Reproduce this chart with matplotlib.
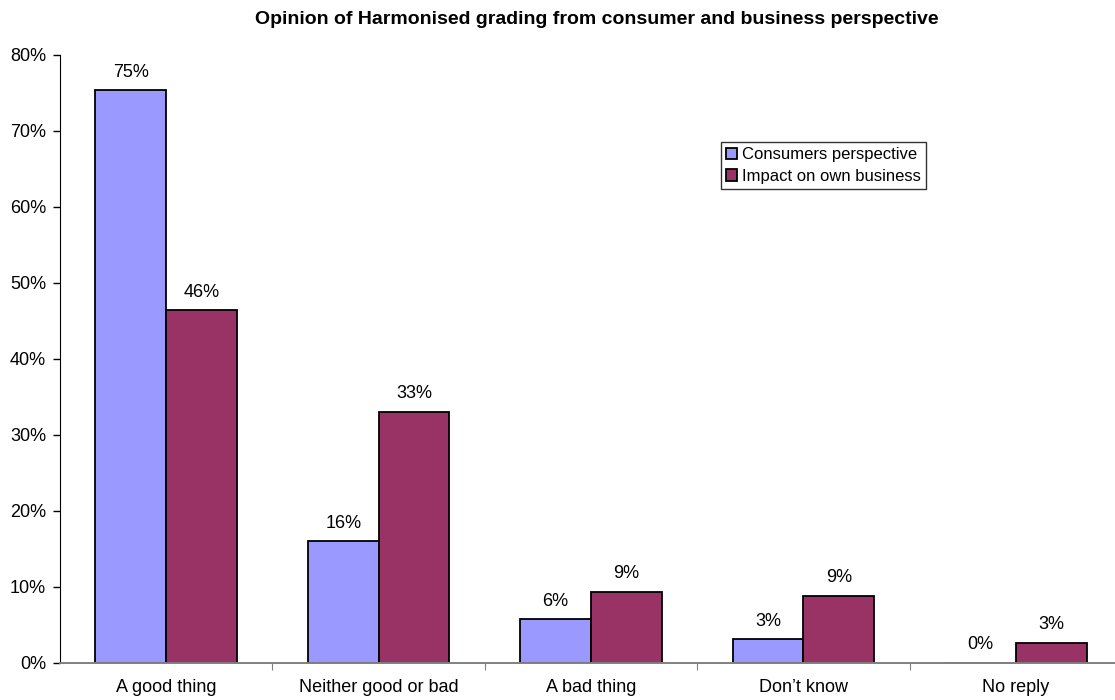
import matplotlib.pyplot as plt
import numpy as np
from matplotlib.ticker import PercentFormatter

plt.rcParams["font.family"] = ["Liberation Sans", "DejaVu Sans"]

categories = ["A good thing", "Neither good or bad", "A bad thing", "Don\u2019t know", "No reply"]
consumers = [75.3, 16.0, 5.7, 3.1, 0.0]
business = [46.4, 33.0, 9.3, 8.8, 2.6]

CONS_COLOR = "#9999FF"
BUS_COLOR = "#993366"

fig = plt.figure(figsize=(11.15, 7), dpi=100)
ax = fig.add_axes([60 / 1115, 37.3 / 700, 1062 / 1115, 608 / 700])

x = np.arange(len(categories))
w = 1 / 3
b1 = ax.bar(x - w / 2, consumers, w, color=CONS_COLOR, edgecolor="black",
            linewidth=1.3, label="Consumers perspective")
b2 = ax.bar(x + w / 2, business, w, color=BUS_COLOR, edgecolor="black",
            linewidth=1.3, label="Impact on own business")

# value labels above bars
for bars, vals in [(b1, consumers), (b2, business)]:
    for bar, v in zip(bars, vals):
        ax.annotate(f"{v:.0f}%", (bar.get_x() + bar.get_width() / 2, v),
                    xytext=(0, 13), textcoords="offset points",
                    ha="center", va="center", fontsize=13)

ax.set_xlim(-0.5, 4.5)
ax.set_ylim(0, 80)
ax.set_yticks(np.arange(0, 81, 10))
ax.yaxis.set_major_formatter(PercentFormatter(decimals=0))
ax.tick_params(axis="y", direction="out", length=5, width=1, labelsize=13, pad=5)

# ticks between categories, labels centred on groups
ax.set_xticks(x[:-1] + 0.5)
ax.set_xticklabels([])
ax.set_xticks(x, minor=True)
ax.set_xticklabels(categories, minor=True, fontsize=13)
ax.tick_params(axis="x", which="major", direction="out", length=5, color="#808080")
ax.tick_params(axis="x", which="minor", length=0, pad=12)

for side in ["top", "right"]:
    ax.spines[side].set_visible(False)
ax.spines["bottom"].set_color("#808080")
ax.spines["bottom"].set_linewidth(1.4)
ax.spines["left"].set_color("black")

leg = ax.legend(loc="upper left", bbox_to_anchor=(0.622, 0.856),
                fontsize=12, frameon=True, fancybox=False, borderpad=0.3,
                handlelength=0.7, handleheight=0.7, handletextpad=0.3,
                labelspacing=0.4, borderaxespad=0)
leg.get_frame().set_edgecolor("black")
leg.get_frame().set_linewidth(1)

fig.text(597 / 1115, 1 - 20 / 700, "Opinion of Harmonised grading from consumer and business perspective",
         ha="center", va="center", fontsize=14, fontweight="bold")

fig.savefig("out.png", dpi=100)
